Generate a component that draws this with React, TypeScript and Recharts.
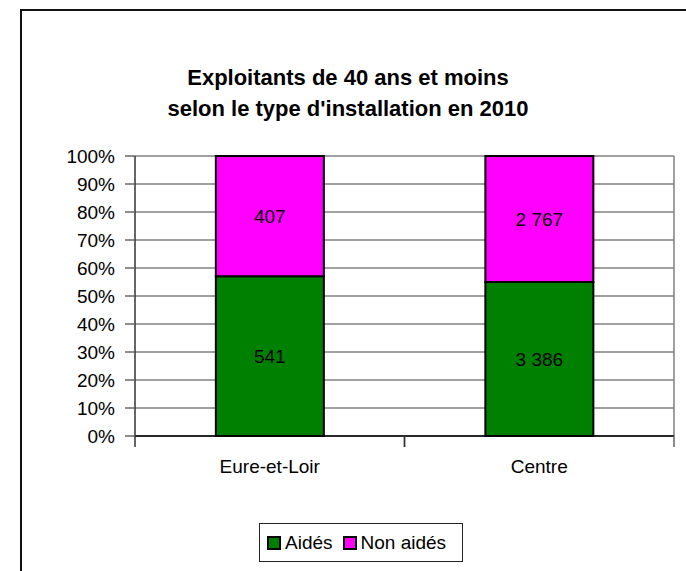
import { Bar, BarChart, CartesianGrid, LabelList, XAxis, YAxis } from "recharts";

const regions = ["Eure-et-Loir", "Centre"];
const aides = [541, 3386];
const nonAides = [407, 2767];
const yTicks = [0, 0.1, 0.2, 0.3, 0.4, 0.5, 0.6, 0.7, 0.8, 0.9, 1];

const series = [
  { key: "aides", name: "Aidés", color: "#008000" },
  { key: "nonAides", name: "Non aidés", color: "#FF00FF" },
];

const data = regions.map((r, i) => ({ region: r, aides: aides[i], nonAides: nonAides[i] }));

const font = "'Liberation Sans', Arial, sans-serif";
const fmt = (v: any) => String(v).replace(/\B(?=(\d{3})+(?!\d))/g, " ");

// category label plus the small tick marks at the category edges
function RegionTick(props: any) {
  const { x, y, payload } = props;
  const half = payload.offset || 0;
  return (
    <g>
      <line x1={x - half} x2={x - half} y1={y} y2={y + 11} stroke="#333" strokeWidth={1.5} />
      <line x1={x + half} x2={x + half} y1={y} y2={y + 11} stroke="#666" strokeWidth={1.5} />
      <text x={x} y={y + 24} dy="0.71em" textAnchor="middle" fill="#000" fontSize={19} fontFamily={font}>
        {payload.value}
      </text>
    </g>
  );
}

export default function App() {
  return (
    <div style={{ position: "absolute", left: 0, top: 0, width: 686, height: 571, overflow: "hidden", background: "#fff", fontFamily: font }}>
      <div
        style={{
          position: "absolute",
          left: 20,
          top: 9,
          width: 700,
          height: 600,
          borderLeft: "2px solid #111",
          borderTop: "2px solid #111",
        }}
      />
      <div
        style={{
          position: "absolute",
          left: 20,
          width: 656,
          top: 62,
          textAlign: "center",
          fontWeight: "bold",
          fontSize: 22,
          lineHeight: "31px",
          color: "#000",
        }}
      >
        Exploitants de 40 ans et moins
        <br />
        selon le type d'installation en 2010
      </div>
      <BarChart
        width={686}
        height={571}
        data={data}
        stackOffset="expand"
        barCategoryGap="30%"
        margin={{ top: 156, right: 12, left: 0, bottom: 0 }}
        style={{ position: "absolute", left: 0, top: 0 }}
      >
        <CartesianGrid vertical={false} stroke="#808080" strokeWidth={1.5} />
        <CartesianGrid
          horizontal={false}
          stroke="#808080"
          strokeWidth={1.5}
          verticalCoordinatesGenerator={({ offset }: any) => [offset.left + offset.width]}
        />
        <XAxis
          dataKey="region"
          height={135}
          tickLine={false}
          tickSize={0}
          tickMargin={0}
          axisLine={{ stroke: "#000", strokeWidth: 1.5 }}
          tick={<RegionTick />}
        />
        <YAxis
          width={135}
          domain={[0, 1]}
          ticks={yTicks}
          tickFormatter={(v) => `${Math.round(v * 100)}%`}
          tickSize={10}
          tickMargin={10}
          tickLine={{ stroke: "#666", strokeWidth: 1.5 }}
          axisLine={{ stroke: "#333", strokeWidth: 1.5 }}
          tick={{ fill: "#000", fontSize: 19, fontFamily: font }}
          interval={0}
        />
        {series.map((s) => (
          <Bar
            key={s.key}
            dataKey={s.key}
            name={s.name}
            stackId="a"
            fill={s.color}
            stroke="#000"
            strokeWidth={2}
            isAnimationActive={false}
          >
            <LabelList
              dataKey={s.key}
              position="center"
              formatter={fmt}
              style={{ fill: "#000", fontSize: 19, fontFamily: font }}
            />
          </Bar>
        ))}
      </BarChart>
      <div
        style={{
          position: "absolute",
          left: 259,
          top: 523,
          width: 204,
          height: 39,
          border: "1px solid #222",
          display: "flex",
          alignItems: "center",
          paddingLeft: 7,
          boxSizing: "border-box",
          fontSize: 19,
          color: "#000",
        }}
      >
        {series.map((s) => (
          <span key={s.key} style={{ display: "flex", alignItems: "center", marginRight: 10 }}>
            <span
              style={{
                display: "inline-block",
                width: 10,
                height: 10,
                background: s.color,
                border: "2px solid #000",
                marginRight: 4,
              }}
            />
            {s.name}
          </span>
        ))}
      </div>
    </div>
  );
}
